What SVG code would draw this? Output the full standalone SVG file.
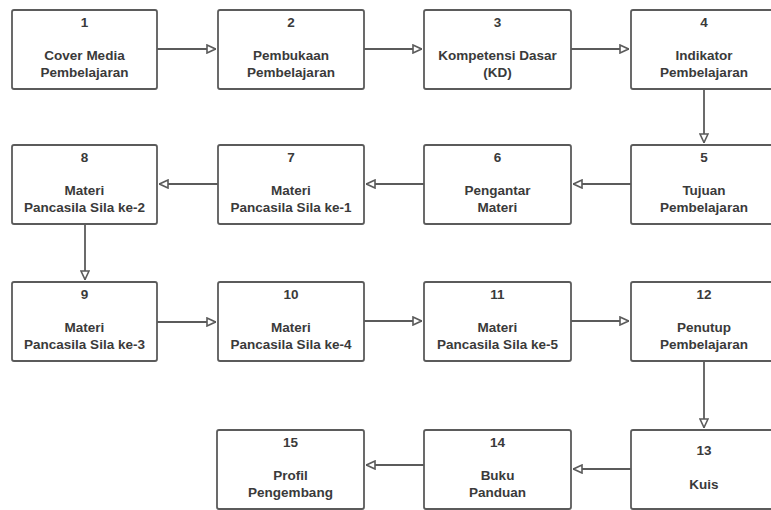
<svg xmlns="http://www.w3.org/2000/svg" width="771" height="510" viewBox="0 0 771 510">
<style>
.box{fill:#fff;stroke:#5b5b5b;stroke-width:1.8}
.t{font-family:"Liberation Sans",Arial,sans-serif;font-size:13.5px;font-weight:bold;fill:#3a3a3a;text-anchor:middle}
.c{fill:none;stroke:#5b5b5b;stroke-width:1.8}
</style>
<defs>
<marker id="ah" viewBox="0 0 10 10" refX="10" refY="5" markerWidth="10" markerHeight="10" markerUnits="userSpaceOnUse" orient="auto">
<path d="M1,1 L9.5,5 L1,9 z" fill="#fff" stroke="#5b5b5b" stroke-width="1.6"/>
</marker>
</defs>
<rect width="771" height="510" fill="#fff"/>
<g id="connectors">
<line class="c" x1="157" y1="49" x2="216" y2="49" marker-end="url(#ah)"/>
<line class="c" x1="364" y1="49" x2="422" y2="49" marker-end="url(#ah)"/>
<line class="c" x1="571" y1="49" x2="629" y2="49" marker-end="url(#ah)"/>
<line class="c" x1="704" y1="89" x2="704" y2="143" marker-end="url(#ah)"/>
<line class="c" x1="631" y1="184" x2="573" y2="184" marker-end="url(#ah)"/>
<line class="c" x1="424" y1="184" x2="366" y2="184" marker-end="url(#ah)"/>
<line class="c" x1="218" y1="184" x2="159" y2="184" marker-end="url(#ah)"/>
<line class="c" x1="85" y1="224" x2="85" y2="280" marker-end="url(#ah)"/>
<line class="c" x1="157" y1="322" x2="216" y2="322" marker-end="url(#ah)"/>
<line class="c" x1="364" y1="321" x2="422" y2="321" marker-end="url(#ah)"/>
<line class="c" x1="571" y1="321" x2="629" y2="321" marker-end="url(#ah)"/>
<line class="c" x1="704" y1="361" x2="704" y2="428" marker-end="url(#ah)"/>
<line class="c" x1="631" y1="469" x2="573" y2="469" marker-end="url(#ah)"/>
<line class="c" x1="424" y1="465" x2="366" y2="465" marker-end="url(#ah)"/>
</g>
<g id="n1"><rect class="box" x="12" y="10" width="145" height="79" rx="2"/><text class="t" x="84.5" y="27">1</text><text class="t" x="84.5" y="60">Cover Media</text><text class="t" x="84.5" y="77">Pembelajaran</text></g>
<g id="n2"><rect class="box" x="218" y="10" width="146" height="79" rx="2"/><text class="t" x="291" y="27">2</text><text class="t" x="291" y="60">Pembukaan</text><text class="t" x="291" y="77">Pembelajaran</text></g>
<g id="n3"><rect class="box" x="424" y="10" width="147" height="79" rx="2"/><text class="t" x="497.5" y="27">3</text><text class="t" x="497.5" y="60">Kompetensi Dasar</text><text class="t" x="497.5" y="77">(KD)</text></g>
<g id="n4"><rect class="box" x="631" y="10" width="146" height="79" rx="2"/><text class="t" x="704" y="27">4</text><text class="t" x="704" y="60">Indikator</text><text class="t" x="704" y="77">Pembelajaran</text></g>
<g id="n5"><rect class="box" x="631" y="145" width="146" height="79" rx="2"/><text class="t" x="704" y="162">5</text><text class="t" x="704" y="195">Tujuan</text><text class="t" x="704" y="212">Pembelajaran</text></g>
<g id="n6"><rect class="box" x="424" y="145" width="147" height="79" rx="2"/><text class="t" x="497.5" y="162">6</text><text class="t" x="497.5" y="195">Pengantar</text><text class="t" x="497.5" y="212">Materi</text></g>
<g id="n7"><rect class="box" x="218" y="145" width="146" height="79" rx="2"/><text class="t" x="291" y="162">7</text><text class="t" x="291" y="195">Materi</text><text class="t" x="291" y="212">Pancasila Sila ke-1</text></g>
<g id="n8"><rect class="box" x="12" y="145" width="145" height="79" rx="2"/><text class="t" x="84.5" y="162">8</text><text class="t" x="84.5" y="195">Materi</text><text class="t" x="84.5" y="212">Pancasila Sila ke-2</text></g>
<g id="n9"><rect class="box" x="12" y="282" width="145" height="79" rx="2"/><text class="t" x="84.5" y="299">9</text><text class="t" x="84.5" y="332">Materi</text><text class="t" x="84.5" y="349">Pancasila Sila ke-3</text></g>
<g id="n10"><rect class="box" x="218" y="282" width="146" height="79" rx="2"/><text class="t" x="291" y="299">10</text><text class="t" x="291" y="332">Materi</text><text class="t" x="291" y="349">Pancasila Sila ke-4</text></g>
<g id="n11"><rect class="box" x="424" y="282" width="147" height="79" rx="2"/><text class="t" x="497.5" y="299">11</text><text class="t" x="497.5" y="332">Materi</text><text class="t" x="497.5" y="349">Pancasila Sila ke-5</text></g>
<g id="n12"><rect class="box" x="631" y="282" width="146" height="79" rx="2"/><text class="t" x="704" y="299">12</text><text class="t" x="704" y="332">Penutup</text><text class="t" x="704" y="349">Pembelajaran</text></g>
<g id="n13"><rect class="box" x="631" y="430" width="146" height="79" rx="2"/><text class="t" x="704" y="455">13</text><text class="t" x="704" y="489">Kuis</text></g>
<g id="n14"><rect class="box" x="424" y="430" width="147" height="79" rx="2"/><text class="t" x="497.5" y="447">14</text><text class="t" x="497.5" y="480">Buku</text><text class="t" x="497.5" y="497">Panduan</text></g>
<g id="n15"><rect class="box" x="217" y="430" width="147" height="79" rx="2"/><text class="t" x="290.5" y="447">15</text><text class="t" x="290.5" y="480">Profil</text><text class="t" x="290.5" y="497">Pengembang</text></g>
</svg>
